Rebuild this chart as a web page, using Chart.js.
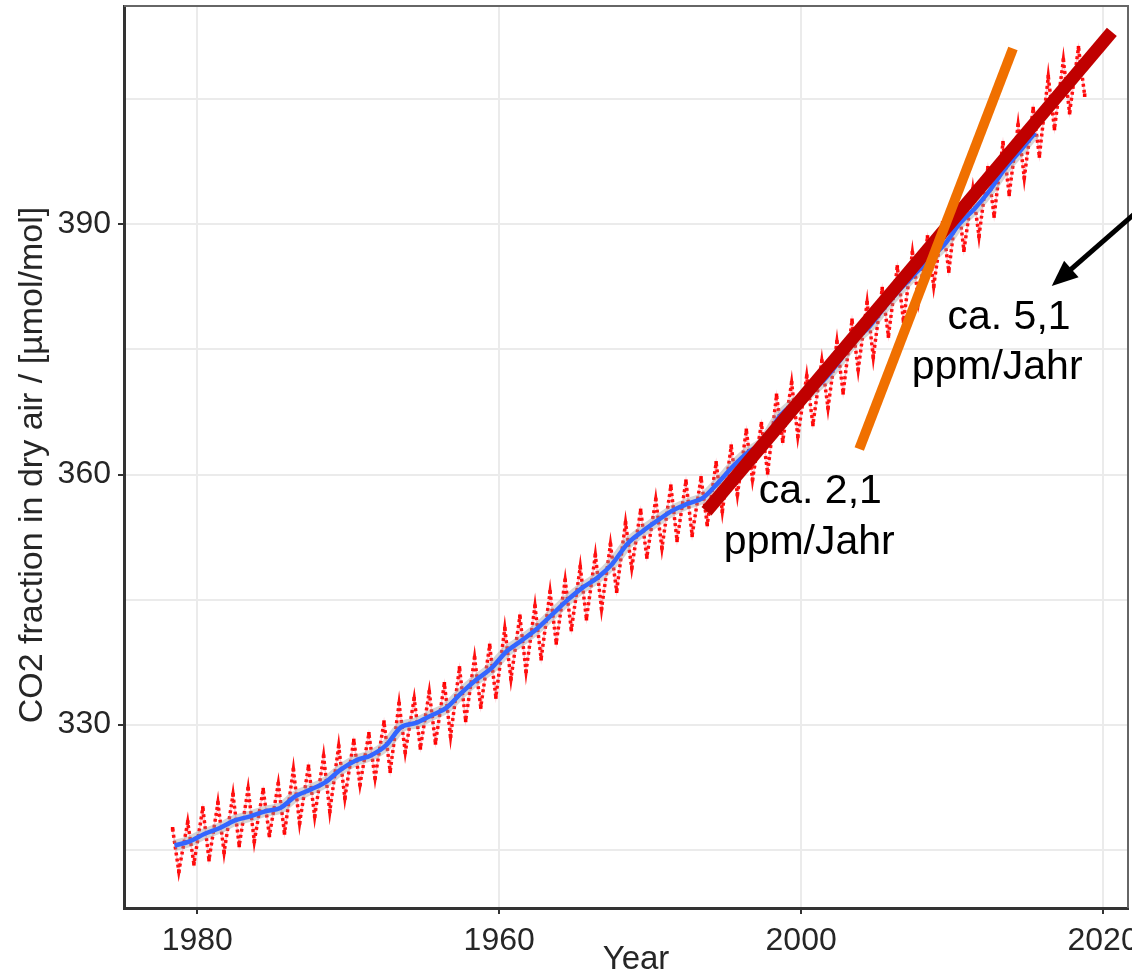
<!DOCTYPE html>
<html>
<head>
<meta charset="utf-8">
<title>CO2</title>
<script src="https://cdn.jsdelivr.net/npm/chart.js@4.4.1/dist/chart.umd.min.js"></script>
<style>
    html, body { margin: 0; padding: 0; background: #fff; }
    #wrap { width: 1132px; height: 972px; }
</style>
</head>
<body>
<div id="wrap"><canvas id="co2" width="1132" height="972"></canvas></div>
<script>
// CO2 values (ppm), one peak (spring) and one trough (autumn) per year
const firstYear = 1958;
const peakVals = [
    317.5, 318.3, 320.0, 320.6, 321.6, 322.3, 322.2, 322.9, 324.6, 325.0,
    326.2, 327.4, 328.1, 328.9, 330.3, 332.5, 333.1, 333.9, 334.9, 336.8,
    338.0, 339.5, 341.5, 343.0, 344.2, 345.9, 347.3, 348.9, 350.3, 351.6,
    354.2, 355.7, 357.0, 358.6, 359.2, 359.6, 361.4, 363.4, 365.3, 366.1,
    369.5, 371.0, 371.8, 373.6, 375.9, 378.5, 380.6, 382.3, 384.9, 386.6,
    388.5, 390.2, 393.2, 394.2, 396.8, 399.8, 401.9, 403.9, 407.7, 409.7,
    411.2
];
const troughVals = [
    312.4, 313.3, 313.8, 314.7, 315.5, 316.0, 316.7, 317.0, 318.2, 319.0,
    319.6, 321.2, 322.8, 323.6, 324.4, 326.7, 327.2, 327.8, 328.6, 330.5,
    332.1, 333.3, 335.5, 336.4, 337.9, 339.8, 341.4, 342.7, 343.9, 346.0,
    348.8, 350.1, 351.2, 352.1, 352.7, 354.0, 355.6, 357.6, 359.4, 360.2,
    364.0, 364.6, 366.0, 368.0, 369.8, 372.6, 374.1, 376.6, 378.4, 380.9,
    382.6, 384.4, 386.9, 388.6, 391.0, 393.6, 395.6, 398.2, 401.5, 403.4,
    405.5
];
// smoothed trend (blue), 1958 - 2015
const trendVals = [
    315.5, 316.0, 316.9, 317.6, 318.5, 319.0, 319.6, 320.0, 321.4, 322.2,
    323.1, 324.6, 325.7, 326.3, 327.5, 329.7, 330.2, 331.1, 332.0, 333.8,
    335.4, 336.8, 338.8, 340.1, 341.5, 343.2, 344.9, 346.4, 347.6, 349.3,
    351.7, 353.2, 354.5, 355.7, 356.5, 357.2, 359.0, 361.0, 362.7, 363.9,
    366.8, 368.5, 369.7, 371.3, 373.5, 376.0, 377.7, 380.0, 382.1, 384.0,
    385.8, 387.6, 390.1, 391.9, 394.1, 396.7, 398.8, 401.0
];

const xTickVals = [1960, 1980, 2000, 2020];
const xTickLabels = ['1980', '1960', '2000', '2020'];
const yGridVals = [315, 330, 345, 360, 375, 390, 405];
const yTickLabels = [330, 360, 390];

// hand drawn rate lines [year, ppm]
const slowLine = [[1993.73, 355.6], [2020.58, 413.1]];
const fastLine = [[2003.85, 363.05], [2014.03, 411.1]];
const arrowFrom = [2022.1, 391.3];
const arrowTo = [2016.6, 382.6];

const notes = [
    { text: 'ca. 2,1', at: [2001.27, 356.6] },
    { text: 'ppm/Jahr', at: [2000.54, 350.5] },
    { text: 'ca. 5,1', at: [2013.77, 377.5] },
    { text: 'ppm/Jahr', at: [2012.98, 371.4] }
];

const fontFam = '"Liberation Sans", Arial, Helvetica, sans-serif';

let seasonal = [];
peakVals.forEach(function(p, i) {
    seasonal.push({ x: firstYear + i + 0.37, y: p });
    seasonal.push({ x: firstYear + i + 0.78, y: troughVals[i] });
});
let trend = trendVals.map(function(v, i) {
    return { x: firstYear + i + 0.5, y: v };
});
function toPts(arr) {
    return arr.map(function(p) { return { x: p[0], y: p[1] }; });
}
function noPad(s) {
    s.paddingLeft = 0;
    s.paddingRight = 0;
    s.paddingTop = 0;
    s.paddingBottom = 0;
}

const extras = {
    id: 'extras',
    afterDraw: function(chart) {
        const ctx = chart.ctx;
        const a = chart.chartArea;
        const xs = chart.scales.x;
        const ys = chart.scales.y;
        ctx.save();

        // top and right frame
        ctx.strokeStyle = '#666';
        ctx.lineWidth = 2;
        ctx.beginPath();
        ctx.moveTo(a.left, a.top);
        ctx.lineTo(a.right, a.top);
        ctx.lineTo(a.right, a.bottom);
        ctx.stroke();

        // arrow
        const x0 = xs.getPixelForValue(arrowFrom[0]);
        const y0 = ys.getPixelForValue(arrowFrom[1]);
        const x1 = xs.getPixelForValue(arrowTo[0]);
        const y1 = ys.getPixelForValue(arrowTo[1]);
        const ang = Math.atan2(y1 - y0, x1 - x0);
        const head = 26;
        ctx.strokeStyle = '#000';
        ctx.fillStyle = '#000';
        ctx.lineWidth = 5;
        ctx.beginPath();
        ctx.moveTo(x0, y0);
        ctx.lineTo(x1 - Math.cos(ang) * (head - 4), y1 - Math.sin(ang) * (head - 4));
        ctx.stroke();
        ctx.beginPath();
        ctx.moveTo(x1, y1);
        ctx.lineTo(x1 - Math.cos(ang) * head + Math.sin(ang) * 11, y1 - Math.sin(ang) * head - Math.cos(ang) * 11);
        ctx.lineTo(x1 - Math.cos(ang) * head - Math.sin(ang) * 11, y1 - Math.sin(ang) * head + Math.cos(ang) * 11);
        ctx.closePath();
        ctx.fill();

        // notes
        ctx.font = '41px ' + fontFam;
        ctx.textAlign = 'center';
        ctx.textBaseline = 'alphabetic';
        notes.forEach(function(n) {
            ctx.fillText(n.text, xs.getPixelForValue(n.at[0]), ys.getPixelForValue(n.at[1]));
        });

        // axis titles
        ctx.fillStyle = '#262626';
        ctx.font = '33px ' + fontFam;
        ctx.fillText('Year', 636, 969);
        ctx.font = '34px ' + fontFam;
        ctx.translate(42, 465);
        ctx.rotate(-Math.PI / 2);
        ctx.fillText('CO2 fraction in dry air / [µmol/mol]', 0, 0);
        ctx.restore();
    }
};

let chart = new Chart(document.getElementById('co2'), {
    type: 'line',
    data: {
        datasets: [
            {
                data: toPts(fastLine), borderColor: '#F07000', borderWidth: 10,
                pointRadius: 0, borderCapStyle: 'butt', order: 0
            },
            {
                data: toPts(slowLine), borderColor: '#C00000', borderWidth: 13,
                pointRadius: 0, borderCapStyle: 'butt', order: 1
            },
            {
                data: trend, borderColor: '#3366FF', borderWidth: 4.5,
                pointRadius: 0, cubicInterpolationMode: 'monotone', order: 2
            },
            {
                data: trend, borderColor: 'rgba(150,150,150,0.4)', borderWidth: 11,
                pointRadius: 0, cubicInterpolationMode: 'monotone', order: 3
            },
            {
                data: seasonal, borderColor: '#FF1010', borderWidth: 3.5,
                borderDash: [3, 3], pointRadius: 0, order: 4
            },
            {
                data: seasonal, borderColor: 'rgba(255,150,170,0.6)', borderWidth: 1.5,
                pointRadius: 2.5, pointStyle: 'rect', pointBackgroundColor: '#FF0000',
                pointBorderWidth: 0, order: 5
            }
        ]
    },
    options: {
        responsive: false,
        animation: false,
        events: [],
        layout: { padding: { top: 6, right: 3, left: 0, bottom: 0 } },
        plugins: { legend: { display: false }, tooltip: { enabled: false } },
        scales: {
            x: {
                type: 'linear', min: 1955.15, max: 2021.65,
                afterBuildTicks: function(s) {
                    s.ticks = xTickVals.map(function(v) { return { value: v }; });
                },
                afterFit: function(s) { s.height = 64; noPad(s); },
                ticks: {
                    callback: function(v, i) { return xTickLabels[i]; },
                    font: { size: 32, family: fontFam }, color: '#262626',
                    padding: 8, maxRotation: 0, autoSkip: false
                },
                grid: { color: '#EBEBEB', lineWidth: 2, tickColor: '#333', tickLength: 6, tickWidth: 2 },
                border: { color: '#333', width: 3 }
            },
            y: {
                type: 'linear', min: 308, max: 416.2,
                afterBuildTicks: function(s) {
                    s.ticks = yGridVals.map(function(v) { return { value: v }; });
                },
                afterFit: function(s) { s.width = 124; noPad(s); },
                ticks: {
                    callback: function(v) { return yTickLabels.includes(v) ? String(v) : ''; },
                    font: { size: 32, family: fontFam }, color: '#262626', padding: 7
                },
                grid: {
                    color: '#EBEBEB', lineWidth: 2, tickLength: 6, tickWidth: 2,
                    tickColor: function(c) {
                        return c.tick && yTickLabels.includes(c.tick.value) ? '#333' : 'rgba(0,0,0,0)';
                    }
                },
                border: { color: '#333', width: 3 }
            }
        }
    },
    plugins: [extras]
});
</script>
</body>
</html>
